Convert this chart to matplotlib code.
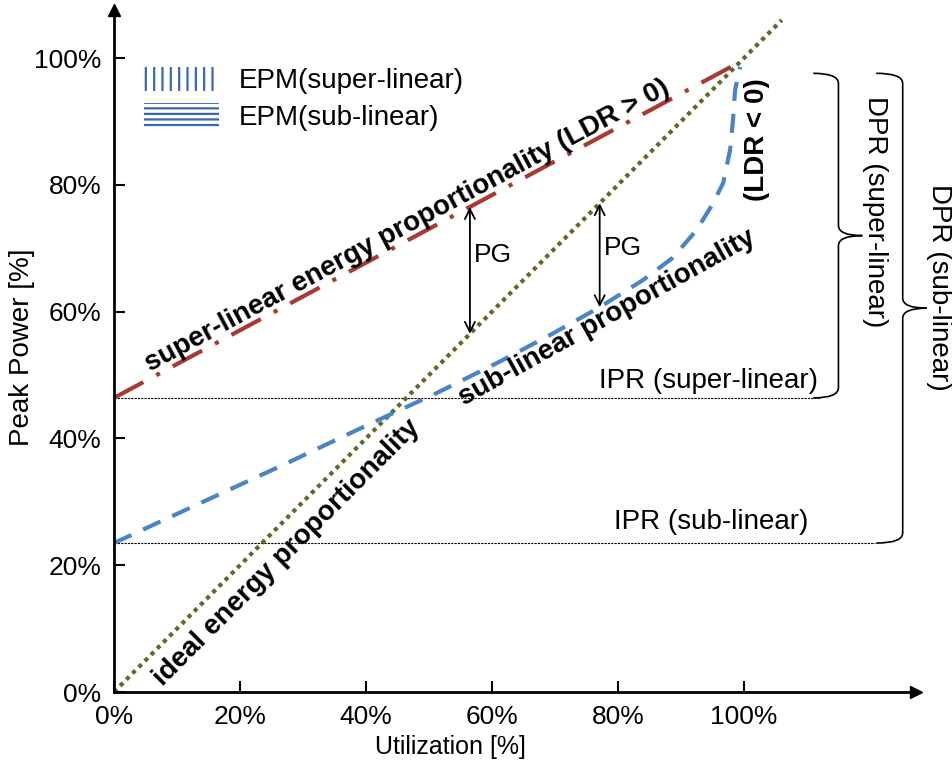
import matplotlib
matplotlib.use('Agg')
import matplotlib.pyplot as plt
from matplotlib.patches import Patch, PathPatch
from matplotlib.path import Path

plt.rcParams['font.family'] = ['Liberation Sans', 'DejaVu Sans']
plt.rcParams['hatch.linewidth'] = 1.6

# curves (utilization %, peak power %)
util_ideal = [0, 106]
power_ideal = [0, 106]
util_super = [0, 99.4]
power_super = [46.4, 99.4]
util_sub = [0, 13.7, 26.8, 40.2, 51.3, 60.8, 69.2, 77.1, 84.0, 88.7,
            92.5, 95.1, 96.7, 97.8, 98.3, 98.6, 99.4]
power_sub = [23.5, 29.8, 35.8, 42.1, 47.2, 51.9, 56.3, 60.7, 65.0, 68.5,
             72.9, 77.1, 80.3, 85.5, 90.7, 95.0, 98.6]

ipr_super = 46.4
ipr_sub = 23.5
dpr_top = 97.6

pg_x = [56.5, 77.1]
pg_top = [76.5, 77.1]
pg_bottom = [56.5, 60.7]

ticks = [0, 20, 40, 60, 80, 100]
tick_labels = ['0%', '20%', '40%', '60%', '80%', '100%']
legend_labels = ['EPM(super-linear)', 'EPM(sub-linear)']

red = '#A83A32'
blue = '#4A84C6'
hatch_blue = '#3A68AE'
green = '#5A6B2B'

fig = plt.figure(figsize=(9.53, 7.69), dpi=100)
ax = fig.add_axes([0.1196, 0.1001, 0.8415, 0.887])
ax.set_xlim(0, 127.3)
ax.set_ylim(0, 107.6)

for s in ['top', 'right']:
    ax.spines[s].set_visible(False)
for s in ['left', 'bottom']:
    ax.spines[s].set_linewidth(2)
ax.plot(1, 0, '>k', ms=9, transform=ax.transAxes, clip_on=False)
ax.plot(0, 1, '^k', ms=9, transform=ax.transAxes, clip_on=False)

ax.set_xticks(ticks)
ax.set_xticklabels(tick_labels)
ax.set_yticks(ticks)
ax.set_yticklabels(tick_labels)
ax.tick_params(direction='in', length=8, width=1.5, labelsize=19, pad=9)

ax.text(0.42, -0.08, 'Utilization [%]', transform=ax.transAxes, fontsize=18,
        ha='center', va='center')
ax.text(-0.1147, 0.506, 'Peak Power [%]', transform=ax.transAxes, fontsize=20,
        ha='center', va='center', rotation=90)

# IPR reference lines
ax.plot([0, 112], [ipr_super, ipr_super], color='k', lw=0.8, ls=(0, (2, 1)), clip_on=False)
ax.plot([0, 120.8], [ipr_sub, ipr_sub], color='k', lw=0.8, ls=(0, (2, 1)), clip_on=False)

ax.plot(util_ideal, power_ideal, color=green, lw=3, ls=(0, (1, 1.1)))
ax.plot(util_super, power_super, color=red, lw=3, ls=(0, (8, 3.5, 1, 3.5)))
ax.plot(util_sub, power_sub, color=blue, lw=3, ls=(0, (4.6, 3.1)))

for x, y0, y1 in zip(pg_x, pg_top, pg_bottom):
    ax.annotate('', xy=(x, y1), xytext=(x, y0),
                arrowprops=dict(arrowstyle='<->', color='k', lw=1.3,
                                shrinkA=0, shrinkB=0, mutation_scale=18))
ax.text(60.2, 68.9, 'PG', fontsize=19, ha='center', va='center')
ax.text(80.8, 70.0, 'PG', fontsize=19, ha='center', va='center')

ax.text(111.7, 49.1, 'IPR (super-linear)', fontsize=20, ha='right', va='center')
ax.text(110.2, 26.8, 'IPR (sub-linear)', fontsize=20, ha='right', va='center')

bold = dict(fontsize=20, fontweight='bold', rotation_mode='anchor')
ax.text(47.1, 72.6, 'super-linear energy proportionality (LDR > 0)',
        ha='center', va='baseline', rotation=28.2, **bold)
ax.text(78.8, 58.0, 'sub-linear proportionality',
        ha='center', va='baseline', rotation=29.2, **bold)
ax.text(27.5, 21.9, 'ideal energy proportionality',
        ha='center', va='center', rotation=45, **bold)
ax.text(102.1, 87.1, '(LDR < 0)', ha='center', va='center', rotation=90, **bold)


def brace(x, y_bot, y_top, tail, tip, r):
    mid = (y_bot + y_top) / 2
    verts = [(x - tail, y_top), (x, y_top), (x, y_top - r),
             (x, mid + r), (x, mid), (x + tip, mid),
             (x, mid), (x, mid - r),
             (x, y_bot + r), (x, y_bot), (x - tail, y_bot)]
    codes = [Path.MOVETO, Path.CURVE3, Path.CURVE3,
             Path.LINETO, Path.CURVE3, Path.CURVE3,
             Path.CURVE3, Path.CURVE3,
             Path.LINETO, Path.CURVE3, Path.CURVE3]
    ax.add_patch(PathPatch(Path(verts, codes), facecolor='none', edgecolor='k',
                           lw=1.2, clip_on=False))


brace(115.0, ipr_super, dpr_top, 4.0, 3.8, 1.6)
brace(125.2, ipr_sub, dpr_top, 4.2, 3.8, 1.6)
ax.text(120.8, 75.7, 'DPR (super-linear)', fontsize=20, ha='center', va='center',
        rotation=-90, clip_on=False)
ax.text(130.9, 63.8, 'DPR (sub-linear)', fontsize=20, ha='center', va='center',
        rotation=-90, clip_on=False)

handles = [Patch(facecolor='none', edgecolor=hatch_blue, hatch='||', lw=0, label=legend_labels[0]),
           Patch(facecolor='none', edgecolor=hatch_blue, hatch='---', lw=0, label=legend_labels[1])]
ax.legend(handles=handles, loc='upper left', bbox_to_anchor=(0.038, 0.917), frameon=False,
          fontsize=20, handlelength=2.7, handleheight=1.0, handletextpad=0.68,
          labelspacing=0.32, borderaxespad=0, borderpad=0)

fig.savefig('out.png', dpi=100)
